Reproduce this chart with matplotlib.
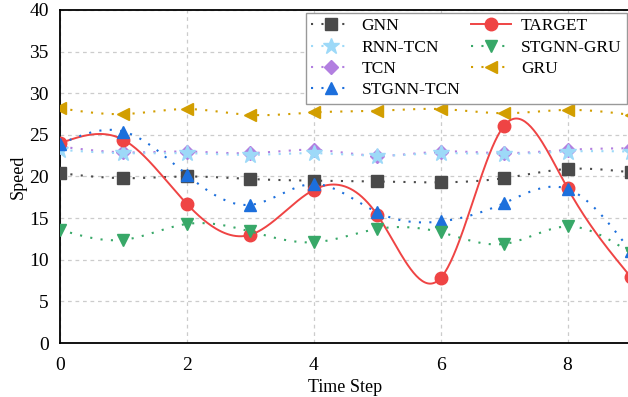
import numpy as np
import matplotlib
matplotlib.use("Agg")
import matplotlib.pyplot as plt

time_steps = [0, 1, 2, 3, 4, 5, 6, 7, 8, 9]
gnn = [20.4, 19.8, 20.0, 19.7, 19.5, 19.4, 19.3, 19.8, 20.9, 20.5]
rnn_tcn = [23.2, 22.8, 22.8, 22.6, 22.8, 22.5, 22.8, 22.7, 23.0, 23.0]
tcn = [23.6, 22.9, 23.0, 22.8, 23.2, 22.5, 23.0, 22.8, 23.2, 23.4]
stgnn_tcn = [23.9, 25.4, 20.2, 16.6, 19.1, 15.7, 14.6, 16.8, 18.5, 11.0]
target = [24.0, 24.4, 16.7, 13.0, 18.4, 15.4, 7.8, 26.1, 18.6, 7.9]
stgnn_gru = [13.6, 12.4, 14.3, 13.4, 12.1, 13.7, 13.3, 11.9, 14.0, 10.8]
gru = [28.2, 27.5, 28.1, 27.4, 27.7, 27.9, 28.1, 27.6, 28.0, 27.4]


def spline(x, y, num=400):
    # natural cubic spline used only to draw the smooth connecting curve
    x = np.asarray(x, float)
    y = np.asarray(y, float)
    n = len(x)
    h = np.diff(x)
    A = np.zeros((n, n))
    b = np.zeros(n)
    A[0, 0] = 1.0
    A[-1, -1] = 1.0
    for i in range(1, n - 1):
        A[i, i - 1] = h[i - 1]
        A[i, i] = 2 * (h[i - 1] + h[i])
        A[i, i + 1] = h[i]
        b[i] = 6 * ((y[i + 1] - y[i]) / h[i] - (y[i] - y[i - 1]) / h[i - 1])
    M = np.linalg.solve(A, b)
    t = np.linspace(x[0], x[-1], num)
    idx = np.clip(np.searchsorted(x, t) - 1, 0, n - 2)
    x0, x1 = x[idx], x[idx + 1]
    hh = x1 - x0
    s = (M[idx] * (x1 - t) ** 3 / (6 * hh) + M[idx + 1] * (t - x0) ** 3 / (6 * hh)
         + (y[idx] / hh - M[idx] * hh / 6) * (x1 - t)
         + (y[idx + 1] / hh - M[idx + 1] * hh / 6) * (t - x0))
    return t, s


plt.rcParams['font.family'] = ['Liberation Serif', 'DejaVu Serif']

W, H = 628, 397
fig = plt.figure(figsize=(W / 100, H / 100), dpi=100)
ax = fig.add_axes([60 / W, 1 - 343 / H, (631 - 60) / W, (343 - 10) / H])

dotted = (0, (1, 4))
series = [
    ("GNN", gnn, "#4a4a4a", "s", dotted, 1.5),
    ("RNN-TCN", rnn_tcn, "#9dd9f8", "*", dotted, 1.5),
    ("TCN", tcn, "#b27fe0", "D", dotted, 1.5),
    ("STGNN-TCN", stgnn_tcn, "#1c6fdc", "^", dotted, 1.5),
    ("TARGET", target, "#ef4444", "o", "-", 1.4),
    ("STGNN-GRU", stgnn_gru, "#38a868", "v", dotted, 1.5),
    ("GRU", gru, "#d29e00", "<", dotted, 1.5),
]
msize = {"s": 8, "*": 12, "D": 7.5, "^": 9, "o": 9, "v": 9, "<": 9}
zorders = {"GNN": 3, "RNN-TCN": 5, "TCN": 4, "STGNN-TCN": 6, "TARGET": 5.5, "STGNN-GRU": 6, "GRU": 3}

handles = []
for name, vals, color, mk, ls, lw in series:
    t, s = spline(time_steps, vals)
    ax.plot(t, s, color=color, linestyle=ls, linewidth=lw, zorder=zorders[name])
    ax.plot(time_steps, vals, linestyle="none", marker=mk, markersize=msize[mk],
            color=color, markeredgecolor=color, zorder=zorders[name] + 0.1)
    h, = ax.plot([], [], color=color, linestyle=ls, linewidth=lw, marker=mk,
                 markersize=msize[mk], markeredgecolor=color, label=name)
    handles.append(h)

ax.set_xlim(0, 9)
ax.set_ylim(0, 40)
ax.set_xticks([0, 2, 4, 6, 8])
ax.set_yticks(range(0, 41, 5))
ax.tick_params(length=0, labelsize=14)
ax.tick_params(axis="x", pad=10)
ax.tick_params(axis="y", pad=8)
ax.grid(True, linestyle=(0, (3, 3)), color="#cccccc", linewidth=0.9)
ax.set_axisbelow(True)
for sp in ["left", "bottom", "top"]:
    ax.spines[sp].set_linewidth(1.3)
    ax.spines[sp].set_color("black")
ax.spines["right"].set_visible(False)

ax.set_xlabel("Time Step", fontsize=13, labelpad=4)
ax.set_ylabel("Speed", fontsize=13, labelpad=2)

leg = ax.legend(handles=handles, ncol=2, loc="upper right",
                bbox_to_anchor=(627 / W, 1 - 13 / H), bbox_transform=fig.transFigure,
                borderaxespad=0, fontsize=12.5, frameon=True, fancybox=False,
                edgecolor="#999999", framealpha=1, handlelength=2.3,
                columnspacing=0.6, labelspacing=0.3, handletextpad=0.6,
                borderpad=0.3)
leg.get_frame().set_linewidth(1.0)

fig.savefig("out.png", dpi=100)
